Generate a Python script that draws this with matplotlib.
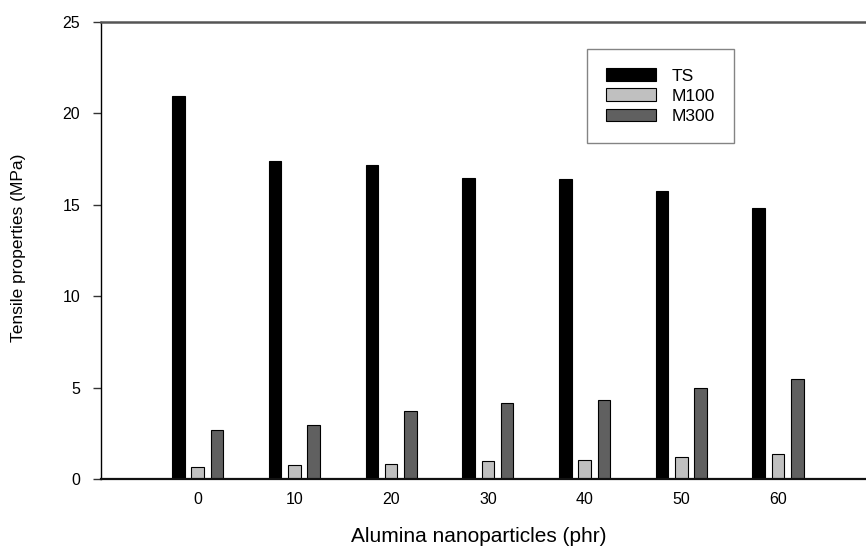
import matplotlib
matplotlib.use('Agg')
import matplotlib.pyplot as plt
import numpy as np

plt.rcParams['font.family'] = ['Liberation Sans', 'DejaVu Sans']

# data
loading = [0, 10, 20, 30, 40, 50, 60]
ts = [20.95, 17.40, 17.20, 16.45, 16.40, 15.75, 14.82]
m100 = [0.64, 0.77, 0.80, 0.98, 1.02, 1.20, 1.38]
m300 = [2.70, 2.95, 3.72, 4.17, 4.30, 5.00, 5.47]
series_names = ['TS', 'M100', 'M300']
series_colors = ['#000000', '#c0c0c0', '#606060']

fig = plt.figure(figsize=(8.66, 5.46), dpi=100)
ax = fig.add_axes([101/866, 1-479/546, 1-101/866, (479-22)/546])

x = np.array(loading, dtype=float)
width = 1.3
offsets = [-2.0, 0.0, 2.0]
for vals, name, col, off in zip([ts, m100, m300], series_names, series_colors, offsets):
    ax.bar(x + off, vals, width=width, color=col, edgecolor='black',
           linewidth=0.8, label=name, zorder=2)

ax.set_xlim(-10, 69.1)
ax.set_ylim(0, 25)
ax.set_xticks(loading)
ax.set_yticks([0, 5, 10, 15, 20, 25])

ax.spines['right'].set_visible(False)
ax.spines['top'].set_color('#555555')
ax.spines['top'].set_linewidth(1.8)
ax.spines['left'].set_color('black')
ax.spines['left'].set_linewidth(1.0)
ax.spines['bottom'].set_color('#111111')
ax.spines['bottom'].set_linewidth(1.6)

ax.tick_params(axis='y', direction='out', length=6, width=1.0, pad=9,
               labelsize=11.5, color='#333333')
ax.tick_params(axis='x', direction='in', length=3, width=1.0, pad=9,
               labelsize=11.5)

ax.set_xlabel('Alumina nanoparticles (phr)', fontsize=15)
ax.set_ylabel('Tensile properties (MPa)', fontsize=12.5)
ax.xaxis.set_label_coords(0.494, -0.104)
ax.yaxis.set_label_coords(-0.098, 0.505)

leg = ax.legend(loc='upper left', bbox_to_anchor=(587/866, 1-49/546),
                bbox_transform=fig.transFigure, borderaxespad=0,
                fontsize=12.5, frameon=True, fancybox=False,
                handlelength=2.9, handleheight=0.75, handletextpad=0.85,
                labelspacing=0.28, borderpad=1.1)
leg.get_frame().set_edgecolor('#666666')
leg.get_frame().set_linewidth(1.0)

fig.savefig('out.png', dpi=100)
